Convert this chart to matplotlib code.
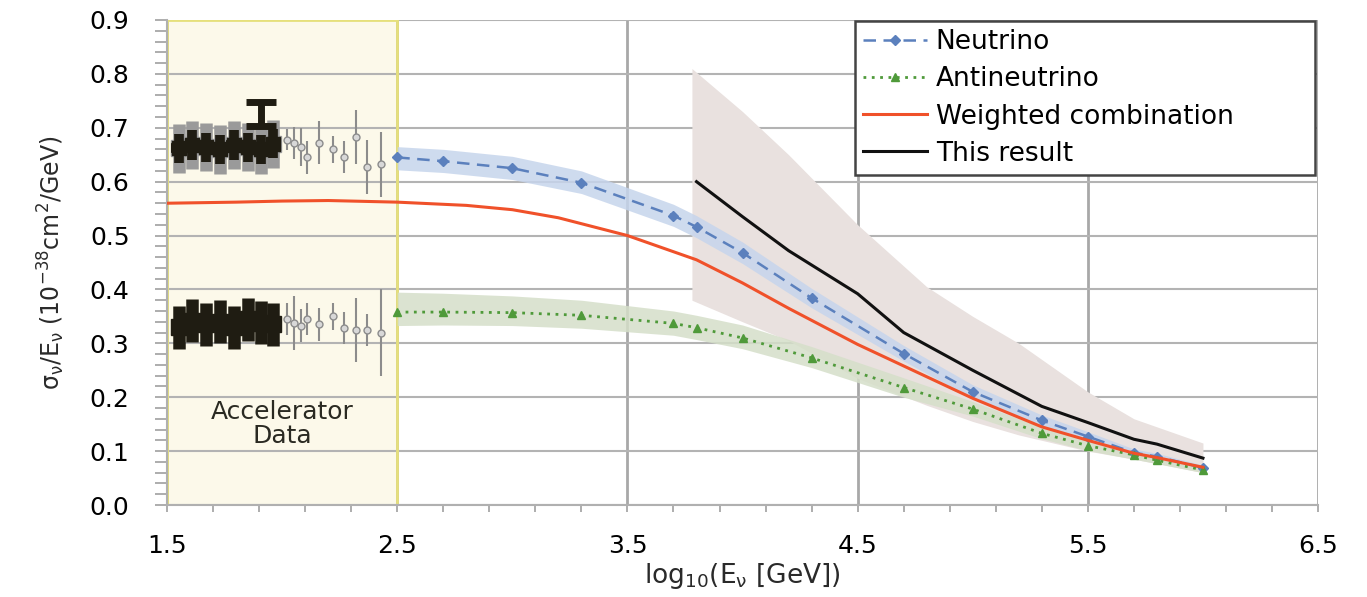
import numpy as np
import matplotlib
matplotlib.use("Agg")
from matplotlib import pyplot as plt
from matplotlib.ticker import MultipleLocator, FixedLocator, FormatStrFormatter

plt.rcParams['font.family'] = ['DejaVu Sans']
plt.rcParams['mathtext.default'] = 'regular'

# Model curves (log10 E [GeV] vs sigma/E)
log_e = [2.5, 2.7, 3.0, 3.3, 3.7, 3.8, 4.0, 4.3, 4.7, 5.0, 5.3, 5.5, 5.7, 5.8, 6.0]
nu = [0.645, 0.638, 0.625, 0.598, 0.537, 0.516, 0.468, 0.384, 0.281, 0.21, 0.157, 0.127, 0.097, 0.09, 0.069]
nu_hi = [0.665, 0.66, 0.647, 0.62, 0.558, 0.537, 0.488, 0.402, 0.296, 0.223, 0.167, 0.136, 0.104, 0.096, 0.074]
nu_lo = [0.622, 0.617, 0.604, 0.578, 0.517, 0.496, 0.448, 0.366, 0.267, 0.198, 0.147, 0.118, 0.09, 0.084, 0.064]
anti = [0.358, 0.358, 0.357, 0.352, 0.337, 0.329, 0.31, 0.273, 0.218, 0.178, 0.133, 0.11, 0.093, 0.083, 0.065]
anti_hi = [0.395, 0.393, 0.388, 0.38, 0.36, 0.352, 0.334, 0.294, 0.236, 0.192, 0.144, 0.119, 0.1, 0.09, 0.07]
anti_lo = [0.333, 0.334, 0.333, 0.328, 0.315, 0.307, 0.29, 0.255, 0.2, 0.165, 0.123, 0.101, 0.085, 0.077, 0.06]

comb_x = [1.5, 1.8, 2.0, 2.2, 2.5, 2.8, 3.0, 3.2, 3.5, 3.8, 4.0, 4.2, 4.5, 4.7, 5.0, 5.3, 5.5, 5.7, 5.8, 6.0]
comb = [0.56, 0.562, 0.564, 0.565, 0.562, 0.556, 0.548, 0.533, 0.5, 0.455, 0.412, 0.365, 0.298, 0.258, 0.198, 0.145, 0.12, 0.096, 0.088, 0.07]

res_x = [3.8, 4.0, 4.2, 4.5, 4.7, 5.0, 5.3, 5.5, 5.7, 5.8, 6.0]
res = [0.6, 0.535, 0.472, 0.392, 0.32, 0.25, 0.183, 0.153, 0.122, 0.113, 0.087]
band_x = [3.78, 4.0, 4.2, 4.5, 4.8, 5.0, 5.2, 5.5, 5.7, 6.0]
band_hi = [0.81, 0.73, 0.65, 0.52, 0.405, 0.35, 0.3, 0.21, 0.16, 0.115]
band_lo = [0.38, 0.34, 0.305, 0.235, 0.185, 0.155, 0.13, 0.1, 0.085, 0.06]

# Accelerator data (rough reading of the blurred points)
acc_bx = [1.55, 1.61, 1.67, 1.73, 1.79, 1.85, 1.91, 1.96]
acc_nu_b = [0.662, 0.668, 0.664, 0.66, 0.668, 0.664, 0.66, 0.67]
acc_anti_b = [0.33, 0.342, 0.335, 0.34, 0.33, 0.345, 0.338, 0.335]
acc_gx = [2.02, 2.05, 2.08, 2.11, 2.16, 2.22, 2.27, 2.32, 2.37, 2.43]
acc_nu_g = [0.678, 0.672, 0.665, 0.645, 0.672, 0.66, 0.646, 0.683, 0.627, 0.632]
acc_nu_gerr = [0.02, 0.03, 0.035, 0.03, 0.04, 0.025, 0.03, 0.05, 0.05, 0.06]
acc_anti_g = [0.345, 0.338, 0.333, 0.345, 0.335, 0.35, 0.328, 0.325, 0.325, 0.32]
acc_anti_gerr = [0.03, 0.05, 0.03, 0.03, 0.03, 0.025, 0.03, 0.06, 0.03, 0.08]
beam_x, beam_y, beam_err = [1.91], [0.725], [0.022]

x_major = [1.5, 2.5, 3.5, 4.5, 5.5, 6.5]


def main():
    fig, ax = plt.subplots(figsize=(13.67, 5.97), dpi=100)
    fig.subplots_adjust(left=0.1222, right=0.9642, bottom=0.1541, top=0.9665)

    ax.set_xlim(1.5, 6.5)
    ax.set_ylim(0.0, 0.9)
    ax.set_axisbelow(True)

    # accelerator region: fill under the grid, yellow outline above it
    ax.axvspan(1.5, 2.5, facecolor='#fcf9ea', linewidth=0, zorder=0.2)
    ax.axvspan(1.5, 2.5, fill=False, edgecolor='#e6e07c', linewidth=2, zorder=0.8)

    # grid
    ax.xaxis.set_major_locator(FixedLocator(x_major))
    ax.xaxis.set_minor_locator(FixedLocator(np.arange(1.5, 6.51, 0.2)))
    ax.yaxis.set_major_locator(MultipleLocator(0.1))
    ax.yaxis.set_minor_locator(MultipleLocator(0.02))
    ax.grid(True, which='major', axis='y', color='#b3b3b3', linewidth=1.5)
    ax.grid(True, which='major', axis='x', color='#a8a8a8', linewidth=2)

    ax.tick_params(axis='both', which='both', direction='out', color='#a0a0a0', width=1.2)
    ax.tick_params(axis='y', which='both', length=9, pad=18, labelsize=18)
    ax.tick_params(axis='x', which='both', length=5, pad=16, labelsize=18)
    ax.yaxis.set_major_formatter(FormatStrFormatter('%.1f'))
    ax.xaxis.set_major_formatter(FormatStrFormatter('%.1f'))
    for side in ['top', 'right']:
        ax.spines[side].set_visible(False)
    for side in ['left', 'bottom']:
        ax.spines[side].set_color('#b0b0b0')
        ax.spines[side].set_linewidth(1.5)

    # uncertainty bands
    ax.fill_between(band_x, band_lo, band_hi, color='#e9e1df', linewidth=0, zorder=1)
    ax.fill_between(log_e, nu_lo, nu_hi, color='#c6d5ec', alpha=0.85, linewidth=0, zorder=1.1)
    ax.fill_between(log_e, anti_lo, anti_hi, color='#d5dfc9', alpha=0.85, linewidth=0, zorder=1.1)

    # accelerator points
    ax.errorbar(acc_bx, acc_nu_b, yerr=0.045, xerr=0.035, fmt='s', color='#9a9a9a',
                markersize=11, elinewidth=9, capsize=0, zorder=2)
    ax.errorbar(acc_bx, acc_nu_b, yerr=0.027, xerr=0.032, fmt='s', color='#1f1c12',
                mfc='#1f1c12', markersize=10, elinewidth=7, capsize=0, zorder=2.1)
    ax.errorbar(beam_x, beam_y, yerr=beam_err, fmt='none', ecolor='#1f1c12',
                elinewidth=5, capsize=11, capthick=5, zorder=2.1)
    ax.errorbar(acc_bx, acc_anti_b, yerr=0.04, xerr=0.035, fmt='s', color='#1f1c12',
                mfc='#1f1c12', markersize=11, elinewidth=9, capsize=0, zorder=2.1)
    ax.errorbar(acc_gx, acc_nu_g, yerr=acc_nu_gerr, xerr=0.012, fmt='o', color='#8c8c8c',
                mfc='#d8d8d8', markersize=5, elinewidth=1.5, capsize=0, zorder=2)
    ax.errorbar(acc_gx, acc_anti_g, yerr=acc_anti_gerr, xerr=0.012, fmt='o', color='#8c8c8c',
                mfc='#d8d8d8', markersize=5, elinewidth=1.5, capsize=0, zorder=2)

    ax.text(2.0, 0.15, 'Accelerator\nData', ha='center', va='center', fontsize=18,
            color='#2a2a22', linespacing=1.0, zorder=3)

    # curves
    ax.plot(log_e, nu, color='#5b80bd', linestyle=(0, (5, 3)), linewidth=1.8,
            marker='D', markersize=5, label='Neutrino', zorder=4)
    ax.plot(log_e, anti, color='#4f9a3a', linestyle=(0, (1, 2)), linewidth=2,
            marker='^', markersize=6, label='Antineutrino', zorder=4)
    ax.plot(comb_x, comb, color='#f0512a', linewidth=2.2, label='Weighted combination', zorder=4.5)
    ax.plot(res_x, res, color='#111111', linewidth=2.2, label='This result', zorder=4.6)

    leg = ax.legend(loc='upper left', bbox_to_anchor=(0.598, 0.664, 0.399, 0.333), mode='expand',
                    fontsize=19, frameon=True, fancybox=False, handlelength=2.4,
                    handletextpad=0.35, labelspacing=0.42, borderaxespad=0, borderpad=0.3)
    leg.get_frame().set_edgecolor('#444444')
    leg.get_frame().set_linewidth(1.8)
    leg.get_frame().set_alpha(1)

    ax.set_ylabel(r'$\sigma_\nu/E_\nu$ (10$^{-38}$cm$^2$/GeV)', fontsize=17, labelpad=16, color='#2a2a2a')
    ax.set_xlabel(r'log$_{10}$(E$_\nu$ [GeV])', fontsize=19, labelpad=2, color='#2a2a2a')

    fig.savefig('out.png', dpi=100)


if __name__ == "__main__":
    main()
